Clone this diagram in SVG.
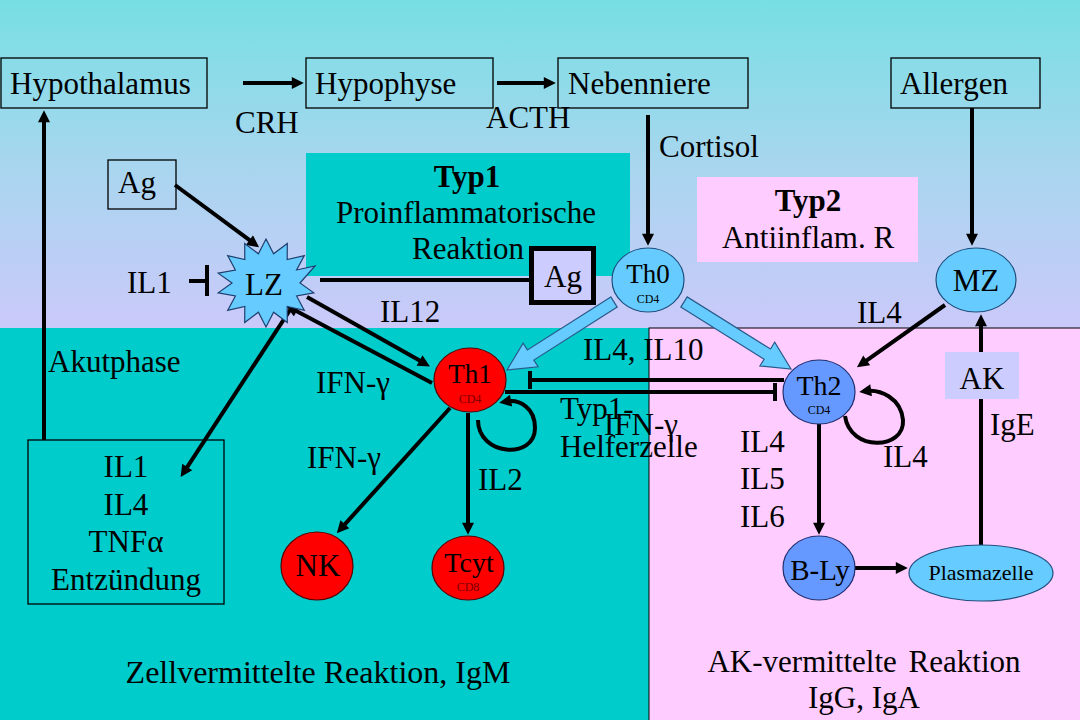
<svg xmlns="http://www.w3.org/2000/svg" width="1080" height="720" viewBox="0 0 1080 720">
<defs>
<linearGradient id="bg" x1="0" y1="0" x2="0" y2="1">
<stop offset="0" stop-color="#76DFE3"/>
<stop offset="0.5" stop-color="#A8D6EF"/>
<stop offset="1" stop-color="#CBC9FA"/>
</linearGradient>
<marker id="ah" viewBox="0 0 10 10" refX="4.3" refY="5" markerWidth="14" markerHeight="12" markerUnits="userSpaceOnUse" orient="auto"><path d="M0,0 L10,5 L0,10 z" fill="#000"/></marker>
<style>
text{font-family:"Liberation Serif","Times New Roman",serif;font-size:31px;fill:#000}
.c{text-anchor:middle}
.b{font-weight:bold}
.sm{font-size:12px}
.sr{fill:#7a0000}
.box{fill:none;stroke:#000;stroke-width:1.3}
.ln{fill:none;stroke:#000;stroke-width:4}
.ar{fill:none;stroke:#000;stroke-width:4;marker-end:url(#ah)}
.lb{fill:#66CCFF;stroke:#1f4f7f;stroke-width:1.2}
.db{fill:#6699FF;stroke:#1f2f6f;stroke-width:1.2}
.rd{fill:#FF0000;stroke:#5a0000;stroke-width:1.2}
.blk{fill:#66CCFF;stroke:#2a5a8a;stroke-width:1.2}
</style>
</defs>
<rect x="0" y="0" width="1080" height="330" fill="url(#bg)"/>
<rect x="0" y="328" width="650" height="392" fill="#00CCCC"/>
<rect x="649" y="328" width="440" height="400" fill="#FFCCFF" stroke="#000" stroke-width="1"/>
<rect x="306" y="153" width="324" height="123" fill="#00CCCC"/>
<rect x="697" y="177" width="221" height="85" fill="#FFCCFF"/>

<g id="typ1"><text class="c b" x="467" y="187">Typ1</text><text class="c" x="466" y="223">Proinflammatorische</text><text class="c" x="468" y="259">Reaktion</text></g>
<g id="typ2"><text class="c b" x="808" y="211">Typ2</text><text class="c" x="808" y="248">Antiinflam. R</text></g>

<g id="connectors">
<line class="ar" x1="243" y1="83" x2="297" y2="83"/>
<line class="ar" x1="497" y1="83" x2="549" y2="83"/>
<line class="ar" x1="648" y1="115" x2="648" y2="239"/>
<line class="ar" x1="972" y1="108" x2="972" y2="239"/>
<line class="ar" x1="175" y1="185" x2="253.6" y2="243.2"/>
<line class="ln" x1="189" y1="281" x2="207" y2="281"/>
<line class="ln" x1="207" y1="265" x2="207" y2="296"/>
<line class="ln" x1="320" y1="280" x2="531" y2="280"/>
<line class="ar" x1="307" y1="297" x2="424" y2="363.1"/>
<line class="ar" x1="432" y1="383" x2="292.1" y2="308.8"/>
<line class="ar" x1="290" y1="310" x2="184.4" y2="471.3"/>
<line class="ar" x1="44" y1="440" x2="44" y2="117"/>
<line class="ar" x1="450" y1="408" x2="341.4" y2="528.1"/>
<line class="ar" x1="468" y1="413" x2="468" y2="528"/>
<path class="ar" d="M478 420 C478 456,535 460,535 428 C535 408,520 399,506 401.6"/>
<line class="ln" x1="530" y1="380" x2="784" y2="380"/>
<line class="ln" x1="530" y1="371" x2="530" y2="389"/>
<line class="ln" x1="505" y1="392" x2="775" y2="392"/>
<line class="ln" x1="775" y1="383" x2="775" y2="401"/>
<path class="ar" d="M845 416 C850 452,905 450,903 420 C901 398,880 389,866 391"/>
<line class="ar" x1="945" y1="305" x2="862.5" y2="363.4"/>
<line class="ar" x1="819" y1="424" x2="819" y2="528"/>
<line class="ar" x1="855" y1="568" x2="901" y2="568"/>
<line class="ln" x1="981" y1="546" x2="981" y2="399"/>
<line class="ar" x1="981" y1="352" x2="981" y2="321"/>
<polygon class="blk" points="610.8,296.9 527.4,349.9 523.1,343.2 507,370 538.1,366.8 533.8,360.1 617.2,307.1"/>
<polygon class="blk" points="680.8,307.1 764.1,359.2 759.9,366 791,369 774.7,342.2 770.5,349 687.2,296.9"/>
</g>

<g id="hypothalamus"><rect class="box" x="1" y="58" width="206" height="50"/><text x="10" y="94">Hypothalamus</text></g>
<g id="hypophyse"><rect class="box" x="306" y="58" width="187" height="50"/><text x="315" y="94">Hypophyse</text></g>
<g id="nebenniere"><rect class="box" x="558" y="58" width="190" height="50"/><text x="568" y="94">Nebenniere</text></g>
<g id="allergen"><rect class="box" x="891" y="58" width="149" height="50"/><text x="900" y="94">Allergen</text></g>
<g id="ag1"><rect class="box" x="108" y="160" width="68" height="49"/><text x="118" y="193">Ag</text></g>
<g id="lz"><polygon fill="#66CCFF" stroke="#1f3f6f" stroke-width="1.2" points="266,239 273.6,253.8 287.3,243.4 287.2,259.5 304.3,255.6 296.6,270 315,266 300,283 313.8,292.8 296.6,296 304.3,310.4 287.2,306.5 287.3,322.6 273.6,312.2 266,327 258.4,312.2 244.7,322.6 244.8,306.5 227.7,310.4 235.4,296 218.2,292.8 232,283 218.2,273.2 235.4,270 227.7,255.6 244.8,259.5 244.7,243.4 258.4,253.8"/><text class="c" x="264" y="295">LZ</text></g>
<g id="ag2"><rect x="531.5" y="248.5" width="62" height="54" fill="#CCCCFF" stroke="#000" stroke-width="5"/><text class="c" x="563" y="287">Ag</text></g>
<g id="th0"><ellipse class="lb" cx="648" cy="280" rx="36" ry="32"/><text class="c" x="648" y="283" style="font-size:27px">Th0</text><text class="c sm" x="648" y="303">CD4</text></g>
<g id="mz"><ellipse class="lb" cx="976" cy="280" rx="40" ry="32"/><text class="c" x="976" y="291">MZ</text></g>
<g id="th1"><ellipse class="rd" cx="470" cy="380" rx="36" ry="32"/><text class="c" x="470" y="383" style="font-size:27px">Th1</text><text class="c sm sr" x="470" y="403">CD4</text></g>
<g id="th2"><ellipse class="db" cx="819" cy="392" rx="36" ry="32"/><text class="c" x="819" y="395" style="font-size:28px">Th2</text><text class="c sm" x="819" y="414">CD4</text></g>
<g id="ak"><rect x="945" y="352" width="74" height="47" fill="#CCCCFF"/><text class="c" x="982" y="389">AK</text></g>
<g id="nk"><ellipse class="rd" cx="317" cy="566" rx="36" ry="34"/><text class="c" x="318" y="576">NK</text></g>
<g id="tcyt"><ellipse class="rd" cx="468" cy="568" rx="36" ry="32"/><text class="c" x="469" y="572" style="font-size:28px">Tcyt</text><text class="c sm sr" x="468" y="591">CD8</text></g>
<g id="bly"><ellipse class="db" cx="819" cy="568" rx="36" ry="32"/><text class="c" x="820" y="580" style="font-size:29px">B-Ly</text></g>
<g id="plasmazelle"><ellipse class="lb" cx="981" cy="573" rx="72" ry="28"/><text class="c" x="981" y="580" style="font-size:22px">Plasmazelle</text></g>
<g id="il1box"><rect class="box" x="28" y="440" width="196" height="164"/><text class="c" x="126" y="477">IL1</text><text class="c" x="126" y="515">IL4</text><text class="c" x="126" y="552">TNFα</text><text class="c" x="126" y="590">Entzündung</text></g>

<g id="labels">
<text x="235" y="133">CRH</text>
<text x="486" y="128">ACTH</text>
<text x="659" y="157">Cortisol</text>
<text x="127" y="293">IL1</text>
<text x="380" y="322">IL12</text>
<text x="857" y="323">IL4</text>
<text x="48" y="372">Akutphase</text>
<text x="316" y="393">IFN-γ</text>
<text x="583" y="360">IL4, IL10</text>
<text x="560" y="419">Typ1-</text>
<text x="604" y="435">IFN-γ</text>
<text x="560" y="457">Helferzelle</text>
<text x="307" y="468">IFN-γ</text>
<text x="478" y="490">IL2</text>
<text x="740" y="452">IL4</text>
<text x="740" y="489">IL5</text>
<text x="740" y="527">IL6</text>
<text x="883" y="467">IL4</text>
<text x="990" y="435">IgE</text>
<text class="c" x="318" y="683" style="font-size:32px">Zellvermittelte Reaktion, IgM</text>
<text class="c" x="864" y="672" style="word-spacing:4px">AK-vermittelte Reaktion</text>
<text class="c" x="864" y="708">IgG, IgA</text>
</g>
</svg>
